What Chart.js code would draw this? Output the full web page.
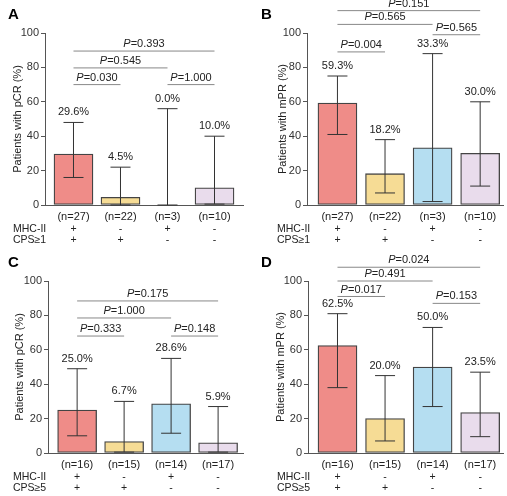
<!DOCTYPE html>
<html><head><meta charset="utf-8">
<script src="https://cdn.jsdelivr.net/npm/chart.js@4"></script>
<style>
body{margin:0;background:#fff;width:507px;height:496px;position:relative;overflow:hidden}
canvas{position:absolute}
</style></head><body>
<canvas id="cA" width="253" height="248" style="left:0;top:0"></canvas>
<canvas id="cB" width="254" height="248" style="left:253px;top:0"></canvas>
<canvas id="cC" width="253" height="248" style="left:0;top:248px"></canvas>
<canvas id="cD" width="254" height="248" style="left:253px;top:248px"></canvas>
<script>
// ---- data ----
const colors = ['#ef8c88','#f6dc95','#b5def1','#e9dcec'];
const mhcRow = ['+','-','+','-'];
const cpsRow = ['+','+','-','-'];

const valuesA = [29.6, 4.5, 0.0, 10.0];
const lowA = [16, 0, 0, 0.5];
const highA = [48, 22, 56, 40];
const nA = ['(n=27)','(n=22)','(n=3)','(n=10)'];
const pA = [[0,3,89.5,'0.393'],[0,2,79.7,'0.545'],[0,1,70,'0.030'],[2,3,70,'1.000']];

const valuesB = [59.3, 18.2, 33.3, 30.0];
const lowB = [41, 7, 2, 11];
const highB = [75, 38, 88, 60];
const nB = ['(n=27)','(n=22)','(n=3)','(n=10)'];
const pB = [[0,3,113,'0.151'],[0,2,105,'0.565'],[0,1,89,'0.004'],[2,3,99,'0.565']];

const valuesC = [25.0, 6.7, 28.6, 5.9];
const lowC = [10, 0.5, 11.5, 0.5];
const highC = [49, 30, 55, 27];
const nC = ['(n=16)','(n=15)','(n=14)','(n=17)'];
const pC = [[0,3,88.4,'0.175'],[0,2,78.5,'1.000'],[0,1,68,'0.333'],[2,3,68,'0.148']];

const valuesD = [62.5, 20.0, 50.0, 23.5];
const lowD = [38, 7, 27, 9.5];
const highD = [81, 45, 73, 47];
const nD = ['(n=16)','(n=15)','(n=14)','(n=17)'];
const pD = [[0,3,108,'0.024'],[0,2,100,'0.491'],[0,1,91,'0.017'],[2,3,87,'0.153']];

// ---- layout (positions only) ----
const F = '"Liberation Sans", Arial, sans-serif';
function makePanel(id, letter, yTitle, cpsLabel, vals, lo, hi, ns, ps, L){
  const plugin = {
    id:'extras',
    afterDraw(chart){
      const ctx = chart.ctx, xs = chart.scales.x, ys = chart.scales.y;
      const y0 = ys.getPixelForValue(0);
      ctx.save();
      ctx.strokeStyle = '#333'; ctx.lineWidth = 1;
      vals.forEach((v,i)=>{
        const x = xs.getPixelForValue(i);
        const yl = ys.getPixelForValue(lo[i]), yh = ys.getPixelForValue(hi[i]);
        ctx.beginPath();
        ctx.moveTo(x,yl); ctx.lineTo(x,yh);
        ctx.moveTo(x-10,yl); ctx.lineTo(x+10,yl);
        ctx.moveTo(x-10,yh); ctx.lineTo(x+10,yh);
        ctx.stroke();
        ctx.fillStyle = '#222'; ctx.font = '11px '+F;
        ctx.textAlign='center'; ctx.textBaseline='middle';
        ctx.fillText(v.toFixed(1)+'%', x, yh-10);
        ctx.fillText(ns[i], x, y0+12);
        ctx.font = '10.5px '+F;
        ctx.fillText(mhcRow[i], x, y0+24);
        ctx.fillText(cpsRow[i], x, y0+35);
      });
      ctx.textAlign='left'; ctx.font='10.5px '+F; ctx.fillStyle='#222';
      ctx.fillText('MHC-II', L.rowX, y0+24);
      ctx.fillText(cpsLabel, L.rowX, y0+35);
      ps.forEach(([a,b,yv,t])=>{
        const xa = xs.getPixelForValue(a), xb = xs.getPixelForValue(b), y = ys.getPixelForValue(yv);
        ctx.strokeStyle='#888'; ctx.lineWidth=1;
        ctx.beginPath(); ctx.moveTo(xa,y); ctx.lineTo(xb,y); ctx.stroke();
        ctx.font='italic 11px '+F;
        const w1 = ctx.measureText('P').width;
        ctx.font='11px '+F;
        const w2 = ctx.measureText('='+t).width;
        const sx = (xa+xb)/2 - (w1+w2)/2;
        ctx.fillStyle='#222'; ctx.textAlign='left'; ctx.textBaseline='middle';
        ctx.font='italic 11px '+F; ctx.fillText('P', sx, y-7);
        ctx.font='11px '+F; ctx.fillText('='+t, sx+w1, y-7);
      });
      ctx.font='bold 15px '+F; ctx.textAlign='left'; ctx.fillStyle='#000';
      ctx.fillText(letter, 8, 15);
      ctx.translate(L.titleX, (ys.top+ys.bottom)/2); ctx.rotate(-Math.PI/2);
      ctx.textAlign='center'; ctx.font='11px '+F; ctx.fillStyle='#222';
      ctx.fillText(yTitle, 0, 0);
      ctx.restore();
    }
  };
  const cw = document.getElementById(id).width;
  new Chart(document.getElementById(id), {
    type:'bar',
    data:{datasets:[{
      data: vals.map((v,i)=>({x:i,y:v})),
      backgroundColor: colors, borderColor:'#444', borderWidth:1.3,
      barThickness: 39, borderSkipped:false
    }]},
    options:{
      responsive:false, animation:false,
      layout:{padding:{top:33,right:cw-L.axisEnd,left:0,bottom:0}},
      plugins:{legend:{display:false},tooltip:{enabled:false}},
      scales:{
        x:{type:'linear', min:L.xmin, max:L.xmax, offset:false, bounds:'ticks',
           grid:{display:false,offset:false},
           ticks:{display:false}, border:{display:true,color:'#555',width:1},
           afterFit(s){s.height=43;}},
        y:{min:0,max:100, ticks:{stepSize:20,color:'#333',font:{size:11,family:F},padding:2},
           grid:{drawOnChartArea:false,tickLength:4,color:'#555'},
           border:{color:'#555',width:1},
           afterFit(s){s.width=L.axisX;}}
      }
    },
    plugins:[plugin]
  });
}
makePanel('cA','A','Patients with pCR (%)','CPS≥1',valuesA,lowA,highA,nA,pA,
  {axisX:45,axisEnd:243,xmin:-0.606,xmax:3.606,titleX:18,rowX:13});
makePanel('cB','B','Patients with mPR (%)','CPS≥1',valuesB,lowB,highB,nB,pB,
  {axisX:54,axisEnd:250,xmin:-0.64,xmax:3.48,titleX:30,rowX:24});
makePanel('cC','C','Patients with pCR (%)','CPS≥5',valuesC,lowC,highC,nC,pC,
  {axisX:48,axisEnd:243,xmin:-0.62,xmax:3.53,titleX:20,rowX:13});
makePanel('cD','D','Patients with mPR (%)','CPS≥5',valuesD,lowD,highD,nD,pD,
  {axisX:55,axisEnd:250,xmin:-0.62,xmax:3.48,titleX:28,rowX:24});
</script></body></html>
